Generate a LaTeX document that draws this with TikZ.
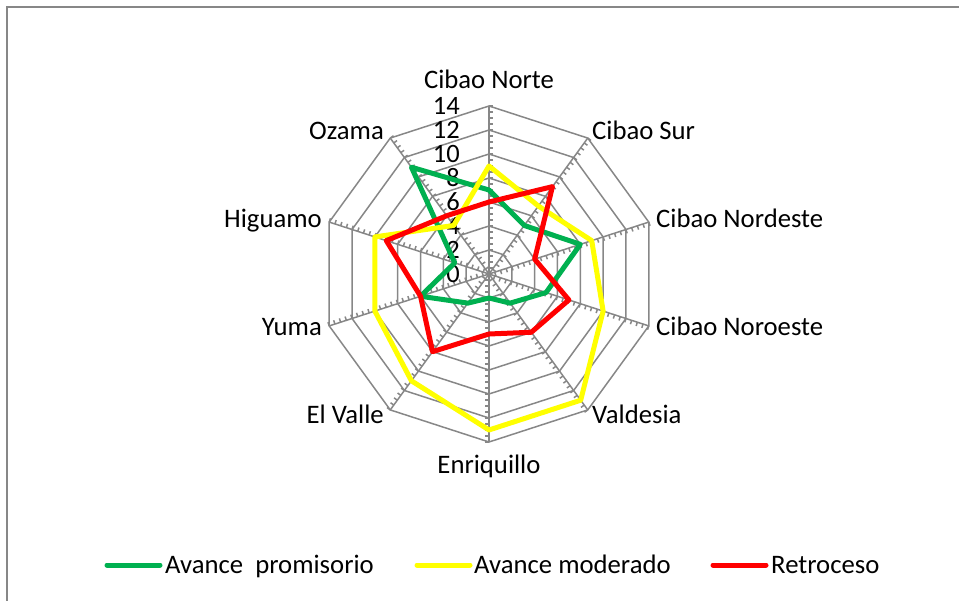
\documentclass[tikz,border=0pt]{standalone}
\usepackage{fontspec}
\setmainfont{Carlito}
\definecolor{gridgray}{HTML}{878787}
\definecolor{sgreen}{HTML}{00B050}
\definecolor{syellow}{HTML}{FFFF00}
\definecolor{sred}{HTML}{FF0000}
\tikzset{
  gridline/.style={draw=gridgray, line width=1.5pt},
  series/.style={line width=5pt, line join=round, line cap=round},
  catlabel/.style={inner sep=0pt, font=\fontsize{26.7}{30}\selectfont},
  numlabel/.style={inner sep=0pt, anchor=base east, font=\fontsize{26.5}{30}\selectfont},
  legline/.style={line width=5pt, line cap=round},
  legtext/.style={inner sep=0pt, anchor=base west, font=\fontsize{26.7}{30}\selectfont}
}
\begin{document}
\begin{tikzpicture}[x=1pt,y=1pt]
\useasboundingbox (0,0) rectangle (959,-601);
% frame
\coordinate (fr1) at (7,-601);
\coordinate (fr2) at (7,-7);
\coordinate (fr3) at (959,-7);
\draw[draw=gridgray, line width=2.5pt] (fr1) -- (fr2) -- (fr3);

\begin{scope}[shift={(489,-274)}]
  \coordinate (ctr) at (0,0);
  % grid polygons
  \foreach \g in {2,4,...,14}{
    \draw[gridline] (90:{12*\g}) \foreach \k in {1,...,9}{ -- ({90-36*\k}:{12*\g}) } -- cycle;
  }
  % spokes and ticks
  \foreach \k in {0,...,9}{
    \coordinate (ax\k) at ({90-36*\k}:168);
    \draw[gridline] (ctr) -- (ax\k);
    \foreach \v in {1,...,28}{
      \draw[gridline] ({90-36*\k}:{6*\v}) -- ++({-36*\k}:4);
    }
  }
  % value labels
  \foreach \g in {0,2,...,14}{
    \node[numlabel] (n\g) at (-29,{12*\g-8.4}) {\g};
  }
  % series
  \draw[series, sgreen] (90:84) -- (54:60) -- (18:96) -- (-18:60) -- (-54:36) -- (-90:24) -- (-126:36) -- (-162:72) -- (162:36) -- (126:132) -- cycle;
  \draw[series, syellow] (90:108) -- (54:84) -- (18:108) -- (-18:120) -- (-54:156) -- (-90:156) -- (-126:132) -- (-162:120) -- (162:120) -- (126:60) -- cycle;
  \draw[series, sred] (90:72) -- (54:108) -- (18:48) -- (-18:84) -- (-54:72) -- (-90:60) -- (-126:96) -- (-162:72) -- (162:108) -- (126:72) -- cycle;
\end{scope}

% category labels
\node[catlabel, anchor=base] (l0) at (489,-89) {Cibao Norte};
\node[catlabel, anchor=base west] (l1) at (592,-140) {Cibao Sur};
\node[catlabel, anchor=base west] (l2) at (656,-228) {Cibao Nordeste};
\node[catlabel, anchor=base west] (l3) at (656,-336) {Cibao Noroeste};
\node[catlabel, anchor=base west] (l4) at (592,-424) {Valdesia};
\node[catlabel, anchor=base] (l5) at (489,-474) {Enriquillo};
\node[catlabel, anchor=base east] (l6) at (384,-424) {El Valle};
\node[catlabel, anchor=base east] (l7) at (322,-336) {Yuma};
\node[catlabel, anchor=base east] (l8) at (322,-228) {Higuamo};
\node[catlabel, anchor=base east] (l9) at (384,-140) {Ozama};

% legend
\coordinate (g1) at (107,-565); \coordinate (g2) at (160,-565);
\coordinate (y1) at (417,-565); \coordinate (y2) at (470,-565);
\coordinate (r1) at (713,-565); \coordinate (r2) at (766,-565);
\draw[legline, sgreen] (g1) -- (g2);
\draw[legline, syellow] (y1) -- (y2);
\draw[legline, sred] (r1) -- (r2);
\node[legtext] (t1) at (165,-573) {Avance\ \ promisorio};
\node[legtext] (t2) at (474,-573) {Avance moderado};
\node[legtext] (t3) at (771,-573) {Retroceso};
\end{tikzpicture}
\end{document}
